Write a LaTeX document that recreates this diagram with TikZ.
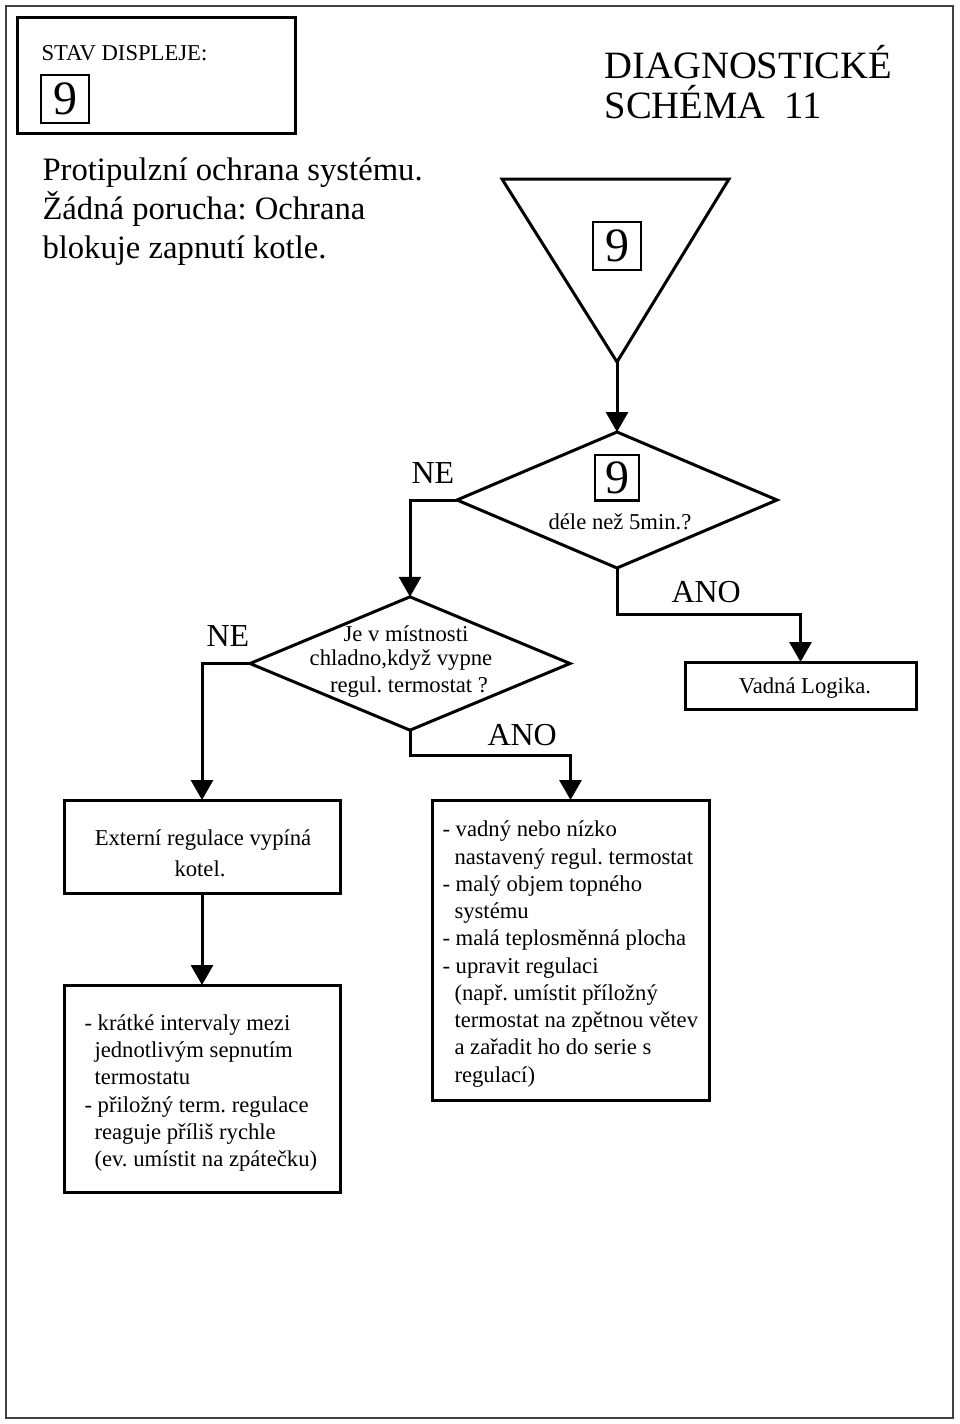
\documentclass[tikz,border=0pt]{standalone}
\usepackage{fontspec}
\setmainfont{Liberation Serif}
\frenchspacing
\usetikzlibrary{arrows.meta,shapes.geometric}
\begin{document}
\begin{tikzpicture}[x=0.75pt,y=-0.75pt,
  line width=2.25pt,
  arr/.style={-{Triangle[length=15pt,width=16.5pt]}},
  box/.style={draw,rectangle,inner sep=0pt,outer sep=0pt},
  dia/.style={draw,diamond,inner sep=0pt,outer sep=0pt,minimum width=#1},
  numbox/.style={draw,rectangle,inner sep=0pt,outer sep=0pt,line width=2pt,
    minimum width=36pt,minimum height=36pt,font=\fontsize{36}{36}\selectfont},
  small/.style={inner sep=0pt,font=\fontsize{17}{20}\selectfont},
  lab/.style={inner sep=0pt,font=\fontsize{24}{28}\selectfont,anchor=base west},
  big/.style={inner sep=0pt,font=\fontsize{24.5}{29}\selectfont,anchor=base west},
  title/.style={inner sep=0pt,font=\fontsize{29}{30}\selectfont,anchor=base west}]
\useasboundingbox (0,0) rectangle (960,1424);
% outer frame
\draw[line width=2.2pt,black!75] (6,6) rectangle (953,1418);
% display state box
\node[box,minimum width=208.5pt,minimum height=87pt] (stav) at (156,75) {};
\node[small,anchor=base west] (stavt) at (40,60) {STAV DISPLEJE:};
\node[numbox] (n1) at (65,99) {9};
% title
\node[title] (t1) at (603,78) {DIAGNOSTICKÉ};
\node[title] (t2) at (603,118) {SCHÉMA\ \ 11};
% description
\node[big] (p1) at (41,180) {Protipulzní ochrana systému.};
\node[big] (p2) at (41,219) {Žádná porucha: Ochrana};
\node[big] (p3) at (41,258) {blokuje zapnutí kotle.};
% inverted triangle
\coordinate (tl) at (502,179);
\coordinate (tr) at (729,179);
\coordinate (tapex) at (617,362);
\draw[line join=miter] (tl) -- (tr) -- (tapex) -- cycle;
\node[numbox] (n2) at (617,246) {9};
% decision 1
\node[dia=240pt,minimum height=102pt] (d1) at (617,500) {};
\node[numbox,minimum width=33pt,minimum height=34pt] (n3) at (617,477.5) {9};
\node[small,anchor=base] (d1t) at (620,529) {déle než 5min.?};
\node[lab] (ne1) at (410,483) {NE};
\node[lab] (ano1) at (670,602) {ANO};
% decision 2
\node[dia=240pt,minimum height=100pt] (d2) at (410,663.5) {};
\node[small,anchor=base] (d2a) at (406,641) {Je v místnosti};
\node[small,anchor=base] (d2b) at (401,665) {chladno,když vypne};
\node[small,anchor=base] (d2c) at (409,692) {regul. termostat ?};
\node[lab] (ne2) at (205,646) {NE};
\node[lab] (ano2) at (486,745) {ANO};
% result boxes
\node[box,minimum width=173.25pt,minimum height=35.25pt] (vad) at (800.5,685.5) {};
\node[small,anchor=base] (vadt) at (805,693) {Vadná Logika.};
\node[box,minimum width=207pt,minimum height=69.75pt] (ext) at (202,846.5) {};
\node[small,anchor=base] (ext1) at (203,845) {Externí regulace vypíná};
\node[small,anchor=base] (ext2) at (200,876) {kotel.};
\node[box,minimum width=207pt,minimum height=155.25pt] (bl) at (202,1088.5) {};
\node[small,anchor=base west] (bl1) at (83,1030) {- krátké intervaly mezi};
\node[small,anchor=base west] (bl2) at (93,1057) {jednotlivým sepnutím};
\node[small,anchor=base west] (bl3) at (93,1084) {termostatu};
\node[small,anchor=base west] (bl4) at (83,1112) {- přiložný term. regulace};
\node[small,anchor=base west] (bl5) at (93,1139) {reaguje příliš rychle};
\node[small,anchor=base west] (bl6) at (93,1166) {(ev. umístit na zpátečku)};
\node[box,minimum width=207.75pt,minimum height=225pt] (rb) at (570.5,950) {};
\node[small,anchor=base west] (rb1) at (441,836) {- vadný nebo nízko};
\node[small,anchor=base west] (rb2) at (453,864) {nastavený regul. termostat};
\node[small,anchor=base west] (rb3) at (441,891) {- malý objem topného};
\node[small,anchor=base west] (rb4) at (453,918) {systému};
\node[small,anchor=base west] (rb5) at (441,945) {- malá teplosměnná plocha};
\node[small,anchor=base west] (rb6) at (441,973) {- upravit regulaci};
\node[small,anchor=base west] (rb7) at (453,1000) {(např. umístit příložný};
\node[small,anchor=base west] (rb8) at (453,1027) {termostat na zpětnou větev};
\node[small,anchor=base west] (rb9) at (453,1054) {a zařadit ho do serie s};
\node[small,anchor=base west] (rb10) at (453,1082) {regulací)};
% connectors
\draw[arr] (tapex) -- (d1.north);
\draw[arr] (d1.west) -| (d2.north);
\draw[arr] (d1.south) -- ++(0,46) -| (vad.north);
\draw[arr] (d2.west) -| (ext.north);
\draw[arr] (d2.south) -- ++(0,25) -| (rb.north);
\draw[arr] (ext.south) -- (bl.north);
\end{tikzpicture}
\end{document}
